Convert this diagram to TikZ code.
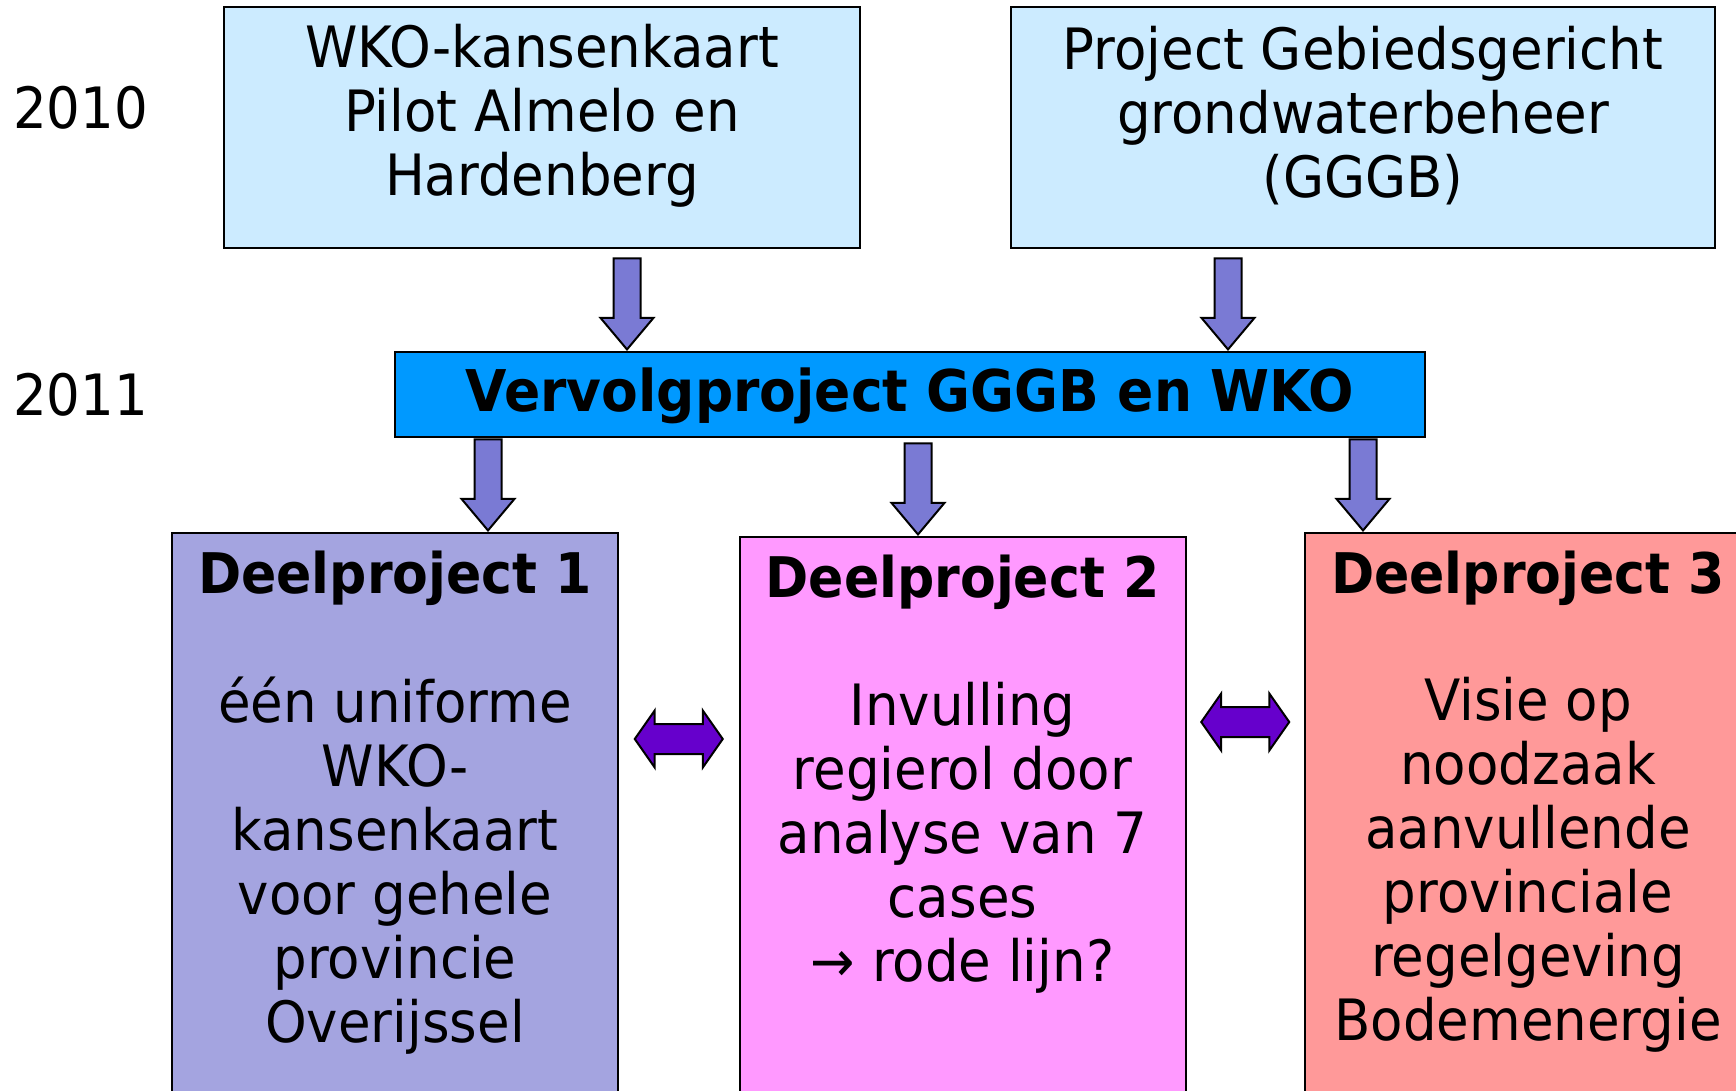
\documentclass[tikz,border=0pt]{standalone}
\usepackage{fontspec}
\setmainfont{DejaVu Sans}[FakeStretch=0.93]
\usetikzlibrary{shapes.arrows,calc}
\definecolor{lightsky}{HTML}{CCEBFF}
\definecolor{vervolgblue}{HTML}{0099FF}
\definecolor{arrowblue}{HTML}{7A7AD4}
\definecolor{arrowpurple}{HTML}{6600CC}
\definecolor{deelone}{HTML}{A4A4E0}
\definecolor{deeltwo}{HTML}{FF99FF}
\definecolor{deelthree}{HTML}{FF9999}
\begin{document}
\begin{tikzpicture}[x=1pt,y=-1pt,
        txt/.style={align=center,inner sep=0pt,font=\fontsize{57}{64}\selectfont},
        title/.style={inner sep=0pt,font=\fontsize{56}{64}\selectfont\bfseries},
        box/.style={draw,line width=2pt,inner sep=0pt},
        deelbox/.style={box,anchor=north,minimum width=446pt,minimum height=600pt},
        downarrow/.style={single arrow,draw,line width=2pt,fill=arrowblue,rotate=-90,anchor=tip,
            minimum height=91pt,inner xsep=0pt,inner ysep=12.5pt,single arrow head extend=13pt,
            single arrow tip angle=80},
        bothways/.style={double arrow,draw,line width=2pt,fill=arrowpurple,
            minimum height=88pt,inner xsep=0pt,inner ysep=14pt,double arrow head extend=13.5pt,
            double arrow tip angle=110}]
    \useasboundingbox (0,0) rectangle (1736,1091);
    \clip (0,0) rectangle (1736,1091);
        %Years
            \node[txt,anchor=west] (y2010) at (13,108) {2010};
            \node[txt,anchor=west] (y2011) at (13,395) {2011};
        %2010 projects
            \node[box,fill=lightsky,minimum width=636pt,minimum height=241pt] (wko) at (542,127.5) {};
            \node[txt] (wkotext) at (542,116) {WKO-kansenkaart\\Pilot Almelo en\\Hardenberg};
            \node[box,fill=lightsky,minimum width=704pt,minimum height=241pt] (gggb) at (1363,127.5) {};
            \node[txt] (gggbtext) at (1363,116) {Project Gebiedsgericht\\grondwaterbeheer\\(GGGB)};
        %2011 project
            \node[box,fill=vervolgblue,minimum width=1030pt,minimum height=85pt] (vervolg) at (910,394.5) {};
            \node[title,font=\fontsize{57.5}{64}\selectfont\bfseries] (vervolgtext) at (910,396) {Vervolgproject GGGB en WKO};
        %Subprojects
            \node[deelbox,fill=deelone] (d1) at (395,532) {};
            \node[deelbox,fill=deeltwo] (d2) at (962.5,536) {};
            \node[deelbox,fill=deelthree] (d3) at (1528,532) {};
            \node[title] (d1title) at ($(d1.north)+(0,46)$) {Deelproject 1};
            \node[title] (d2title) at ($(d2.north)+(0,46)$) {Deelproject 2};
            \node[title] (d3title) at ($(d3.north)+(0,46)$) {Deelproject 3};
            \node[txt] (d1text) at (395,866) {één uniforme\\WKO-\\kansenkaart\\voor gehele\\provincie\\Overijssel};
            \node[txt] (d2text) at (962.5,838) {Invulling\\regierol door\\analyse van 7\\cases\\→ rode lijn?};
            \node[txt] (d3text) at (1528,865) {Visie op\\noodzaak\\aanvullende\\provinciale\\regelgeving\\Bodemenergie};
        %Arrows down
            \node[downarrow] (arrwko) at (vervolg.north -| 627,0) {};
            \node[downarrow] (arrgggb) at (vervolg.north -| 1228,0) {};
            \node[downarrow] (arrd1) at (d1.north -| 488,0) {};
            \node[downarrow] (arrd2) at (d2.north -| 918,0) {};
            \node[downarrow] (arrd3) at (d3.north -| 1363,0) {};
        %Links between subprojects
            \node[bothways] (link12) at ($(d1.north east)!.5!(d2.north west)+(0,205)$) {};
            \node[bothways] (link23) at ($(d2.north east)!.5!(d3.north west)+(0,188)$) {};
\end{tikzpicture}
\end{document}
